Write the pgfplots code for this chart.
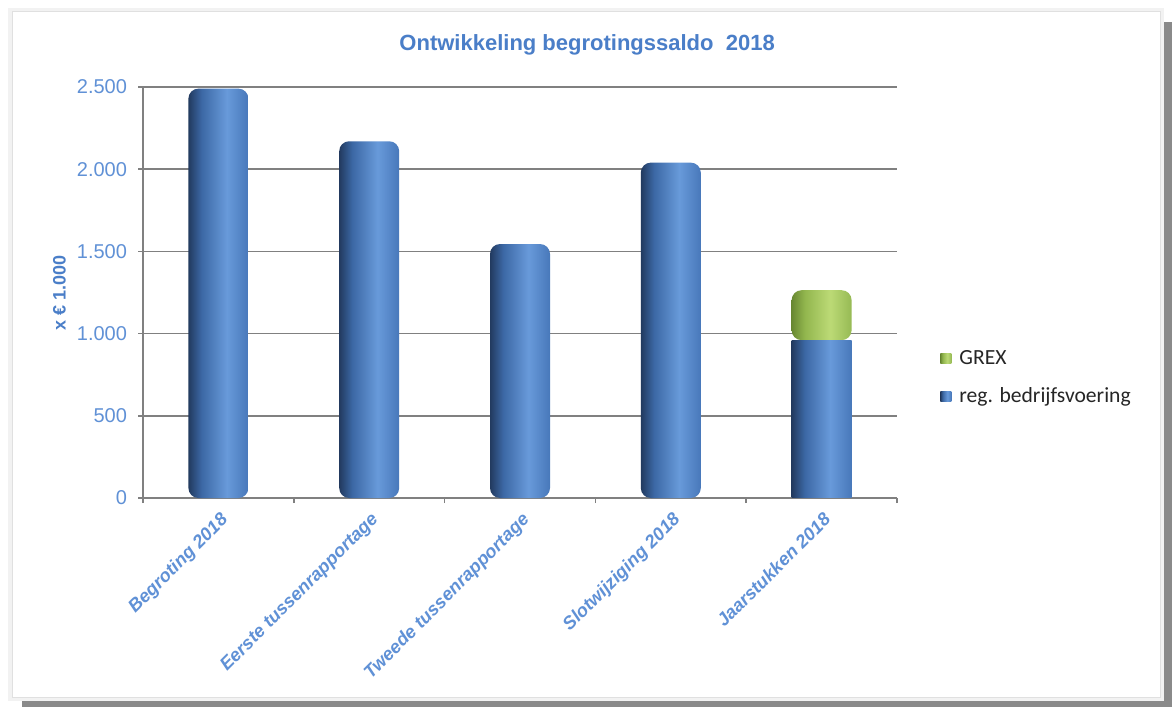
\documentclass[border=0pt]{standalone}
\usepackage{pgfplots}
\pgfplotsset{compat=1.18}
\usepackage{fontspec}
\setmainfont{Liberation Sans}
\newfontfamily\legfont{Carlito}
\definecolor{tblue}{RGB}{74,126,200}
\definecolor{lblue}{RGB}{96,145,214}
\definecolor{gridgray}{RGB}{128,128,128}
\definecolor{shadowgray}{RGB}{138,138,138}
\definecolor{bdark}{RGB}{34,58,95}
\definecolor{bmid}{RGB}{60,104,165}
\definecolor{blight}{RGB}{104,154,218}
\definecolor{bright}{RGB}{72,120,186}
\definecolor{gdark}{RGB}{104,136,50}
\definecolor{gmid}{RGB}{146,182,78}
\definecolor{glight}{RGB}{188,218,118}
\definecolor{gright}{RGB}{150,186,84}
\pgfdeclarehorizontalshading{bluecyl}{100bp}{color(0bp)=(bdark); color(25bp)=(bdark); color(36bp)=(bmid); color(57bp)=(blight); color(75bp)=(bright); color(100bp)=(bright)}
\pgfdeclarehorizontalshading{greencyl}{100bp}{color(0bp)=(gdark); color(25bp)=(gdark); color(36bp)=(gmid); color(57bp)=(glight); color(75bp)=(gright); color(100bp)=(gright)}
\pgfplotsset{bluebar/.style={shading=bluecyl, draw=none, rounded corners=5pt}}
\begin{document}
\begin{tikzpicture}
\fill[white] (0,0) rectangle (586pt,353.5pt);
\fill[shadowgray] (580pt,0) rectangle (586pt,342.5pt);
\fill[shadowgray] (11pt,0) rectangle (586pt,5pt);
\draw[black!5, line width=4pt] (6pt,5pt) rectangle (580pt,347.5pt);
\fill[white] (6pt,5pt) rectangle (580pt,347.5pt);
\draw[black!12, line width=0.5pt] (6pt,5pt) rectangle (580pt,347.5pt);
\begin{axis}[
  at={(71.5pt,104.5pt)}, anchor=south west,
  scale only axis, width=377pt, height=205.5pt,
  ybar, bar width=30pt, bar shift=0pt,
  xmin=-0.5, xmax=4.5, ymin=0, ymax=2500,
  xtick={0,1,2,3,4},
  xticklabels={Begroting 2018, Eerste tussenrapportage, Tweede tussenrapportage, Slotwijziging 2018, Jaarstukken 2018},
  minor xtick={-0.5,0.5,1.5,2.5,3.5,4.5},
  ytick={0,500,1000,1500,2000,2500},
  axis x line*=bottom, axis y line*=left,
  ymajorgrids, grid style={gridgray, line width=0.75pt},
  axis line style={gridgray, line width=0.75pt},
  tick style={gridgray, line width=0.75pt},
  major x tick style={draw=none},
  tick align=outside, major tick length=2.5pt, minor tick length=2.5pt,
  /pgf/number format/.cd, 1000 sep={.}, assume math mode=true,
  /pgfplots/.cd,
  yticklabel style={font=\fontsize{10}{11}\selectfont, color=lblue, xshift=-2pt},
  xticklabel style={font=\bfseries\itshape\fontsize{9.1}{10}\selectfont, color=lblue, rotate=45, anchor=north east, inner sep=1pt, xshift=-1.5pt, yshift=-2pt},
  ylabel={x € 1.000},
  every axis y label/.style={at={(axis description cs:-0.111,0.5)}, rotate=90, anchor=center, font=\bfseries\fontsize{9}{10}\selectfont, color=tblue},
  title={Ontwikkeling begrotingssaldo\ \ 2018},
  title style={at={(axis description cs:0.589,1.073)}, anchor=center, font=\bfseries\fontsize{11}{13}\selectfont, color=tblue},
  legend style={at={(axis description cs:1.057,0.292)}, anchor=west, draw=none, fill=none, font=\legfont\fontsize{10.8}{12}\selectfont, text=black!85, row sep=6pt, inner sep=0pt, nodes={inner xsep=4pt}},
  legend cell align=left,
  reverse legend,
  legend image code/.code={\path[#1, draw=none, rounded corners=0pt] (0pt,-2.5pt) rectangle (5.5pt,2.5pt);},
]
\addplot[bluebar] coordinates {(0,2490)};
\addlegendentry{reg. bedrijfsvoering}
\addplot[bluebar, forget plot] coordinates {(1,2170)};
\addplot[bluebar, forget plot] coordinates {(2,1545)};
\addplot[bluebar, forget plot] coordinates {(3,2040)};
\addlegendimage{shading=greencyl, draw=none}
\addlegendentry{GREX}
\end{axis}
\begin{axis}[
  at={(71.5pt,104.5pt)}, anchor=south west,
  scale only axis, width=377pt, height=205.5pt,
  hide axis,
  ybar stacked, bar width=30pt,
  xmin=-0.5, xmax=4.5, ymin=0, ymax=2500,
]
\addplot[shading=bluecyl, draw=none] coordinates {(4,960)};
\addplot[shading=greencyl, draw=none, rounded corners=5pt] coordinates {(4,304)};
\end{axis}
\pgfresetboundingbox
\path[use as bounding box] (0,0) rectangle (586pt,353.5pt);
\end{tikzpicture}
\end{document}
